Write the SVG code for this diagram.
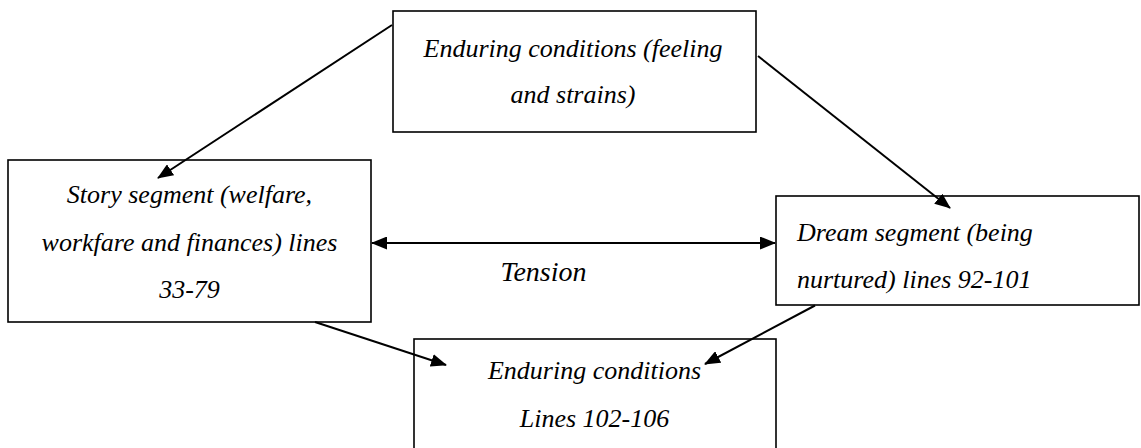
<svg xmlns="http://www.w3.org/2000/svg" width="1141" height="448" viewBox="0 0 1141 448">
  <style>
    .box { fill: #ffffff; stroke: #000000; stroke-width: 1.6; }
    .t { font-family: 'Liberation Serif', 'Times New Roman', serif; font-style: italic; font-size: 26px; fill: #000000; }
    .mid { text-anchor: middle; }
    .conn { stroke: #000000; stroke-width: 2; fill: none; marker-end: url(#ah); }
  </style>
  <defs>
    <marker id="ah" markerUnits="userSpaceOnUse" markerWidth="16" markerHeight="13" refX="15" refY="6.5" orient="auto-start-reverse">
      <path d="M0,0 L16,6.5 L0,13 z" fill="#000000"/>
    </marker>
  </defs>
  <rect width="1141" height="448" fill="#ffffff"/>

  <g id="node-top">
    <rect class="box" x="393" y="11" width="363" height="121"/>
    <text class="t mid" x="573" y="57">Enduring conditions (feeling</text>
    <text class="t mid" x="573" y="103">and strains)</text>
  </g>

  <g id="node-story">
    <rect class="box" x="8" y="160" width="363" height="162"/>
    <text class="t mid" x="189.5" y="203">Story segment (welfare,</text>
    <text class="t mid" x="189.5" y="250.5">workfare and finances) lines</text>
    <text class="t mid" x="189.5" y="298">33-79</text>
  </g>

  <g id="node-dream">
    <rect class="box" x="776" y="196" width="363" height="109"/>
    <text class="t" x="797" y="240.5">Dream segment (being</text>
    <text class="t" x="797" y="288">nurtured) lines 92-101</text>
  </g>

  <g id="node-bottom">
    <rect class="box" x="414" y="339" width="362" height="130"/>
    <text class="t mid" x="594.5" y="379">Enduring conditions</text>
    <text class="t mid" x="594.5" y="426.5">Lines 102-106</text>
  </g>

  <text id="label-tension" class="t" style="font-size:28px" x="543.5" y="280.5" text-anchor="middle">Tension</text>

  <g id="connectors">
    <line class="conn" x1="392" y1="25" x2="158" y2="178"/>
    <line class="conn" x1="758" y1="56" x2="950" y2="208"/>
    <line class="conn" x1="315" y1="322" x2="446" y2="365"/>
    <line class="conn" x1="815" y1="305.5" x2="705" y2="364"/>
    <line class="conn" x1="372" y1="243" x2="775" y2="243" marker-start="url(#ah)"/>
  </g>
</svg>
